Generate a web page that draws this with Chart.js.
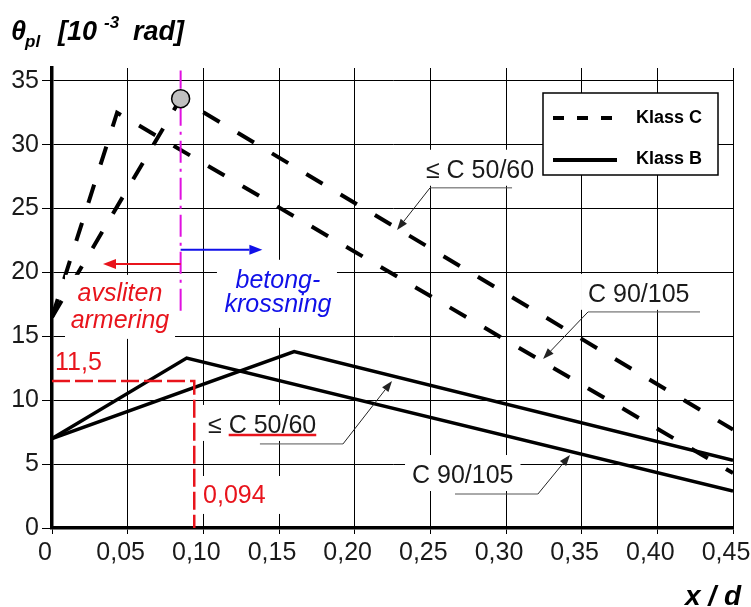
<!DOCTYPE html>
<html>
<head>
<meta charset="utf-8">
<script src="https://cdn.jsdelivr.net/npm/chart.js@4.4.0/dist/chart.umd.min.js"></script>
<style>
  html, body { margin: 0; padding: 0; background: #fff; }
  #wrap { width: 751px; height: 607px; position: relative; }
</style>
</head>
<body>
<div id="wrap"><canvas id="rotation"></canvas></div>
<script>
// avlasta varden, x/d och theta_pl [10^-3 rad]
const xC50 = [0, 0.085, 0.45];
const yC50 = [16.5, 33.6, 7.7];
const xC90 = [0, 0.043, 0.45];
const yC90 = [16.5, 32.5, 4.3];
const xB50 = [0, 0.16, 0.45];
const yB50 = [7, 13.8, 5.3];
const xB90 = [0, 0.089, 0.45];
const yB90 = [7, 13.3, 2.9];

// avlasning 0,094 -> 11,5 (rod streckad)
const xRead = [0, 0.094, 0.094];
const yRead = [11.5, 11.5, 0];
// grans avsliten armering / betongkrossning
const xGrans = [0.085, 0.085];
const yGrans = [17, 35.8];
const xPunkt = [0.085];
const yPunkt = [33.6];

const xTicks = [0, 0.05, 0.10, 0.15, 0.20, 0.25, 0.30, 0.35, 0.40, 0.45];
const xTickLabels = ['0', '0,05', '0,10', '0,15', '0,20', '0,25', '0,30', '0,35', '0,40', '0,45'];
const yTicks = [0, 5, 10, 15, 20, 25, 30, 35];
const yTickLabels = ['0', '5', '10', '15', '20', '25', '30', '35'];

// pekare med text (datakoordinater)
const callouts = [
  { text: '\u2264 C 50/60', at: [0.2471, 27.41], line: [[0.304, 26.62], [0.2498, 26.62], [0.228, 23.33]] },
  { text: 'C 90/105', at: [0.3542, 17.70], line: [[0.4282, 16.91], [0.3542, 16.91], [0.3245, 13.23]] },
  { text: '\u2264 C 50/60', at: [0.1031, 7.44], line: [[0.1374, 6.58], [0.1923, 6.58], [0.2247, 11.51]], underline: true },
  { text: 'C 90/105', at: [0.2379, 3.52], line: [[0.2663, 2.66], [0.3211, 2.66], [0.3423, 5.72]] }
];

Chart.defaults.font.family = "'Liberation Sans', Arial, sans-serif";
Chart.defaults.color = '#1a1a1a';

function pts(xs, ys) {
  return xs.map((v, i) => ({ x: v, y: ys[i] }));
}

function linje(label, xs, ys, extra) {
  return Object.assign({
    label: label,
    data: pts(xs, ys),
    showLine: true,
    borderColor: '#000',
    backgroundColor: '#000',
    pointRadius: 0,
    pointHoverRadius: 0,
    tension: 0,
    fill: false
  }, extra);
}

function pil(ctx, x1, y1, x2, y2, len, half, color, width) {
  ctx.strokeStyle = color;
  ctx.fillStyle = color;
  ctx.lineWidth = width;
  ctx.setLineDash([]);
  const a = Math.atan2(y2 - y1, x2 - x1);
  const bx = x2 - len * Math.cos(a), by = y2 - len * Math.sin(a);
  ctx.beginPath();
  ctx.moveTo(x1, y1);
  ctx.lineTo(bx, by);
  ctx.stroke();
  ctx.beginPath();
  ctx.moveTo(x2, y2);
  ctx.lineTo(bx + half * Math.sin(a), by - half * Math.cos(a));
  ctx.lineTo(bx - half * Math.sin(a), by + half * Math.cos(a));
  ctx.closePath();
  ctx.fill();
}

const figurText = {
  id: 'figurText',
  afterDatasetsDraw(chart) {
    const ctx = chart.ctx;
    const ca = chart.chartArea;
    const X = v => chart.scales.x.getPixelForValue(v);
    const Y = v => chart.scales.y.getPixelForValue(v);
    ctx.save();

    // vita rutor bakom texterna
    ctx.fillStyle = '#fff';
    ctx.fillRect(X(0.0086), Y(19.81), X(0.0813) - X(0.0086), Y(14.8) - Y(19.81));
    ctx.fillRect(X(0.109), Y(20.99), X(0.1883) - X(0.109), Y(15.66) - Y(20.99));
    ctx.fillRect(X(0.0965), Y(4.07), X(0.152) - X(0.0965), Y(1.10) - Y(4.07));

    // rod och bla pil
    pil(ctx, X(0.085), Y(20.67), X(0.0337), Y(20.67), 13, 5, '#e8141c', 2);
    pil(ctx, X(0.085), Y(21.77), X(0.139), Y(21.77), 13, 5, '#1010e8', 2);

    ctx.textBaseline = 'alphabetic';
    ctx.textAlign = 'center';
    ctx.font = "italic 25px 'Liberation Sans', Arial, sans-serif";
    ctx.fillStyle = '#e8141c';
    ctx.fillText('avsliten', X(0.0449), Y(17.77));
    ctx.fillText('armering', X(0.0449), Y(15.66));
    ctx.fillStyle = '#1010e8';
    ctx.fillText('betong-', X(0.1493), Y(18.79));
    ctx.fillText('krossning', X(0.1493), Y(16.91));

    ctx.textAlign = 'left';
    ctx.font = "25px 'Liberation Sans', Arial, sans-serif";
    ctx.fillStyle = '#e8141c';
    ctx.fillText('11,5', X(0.002), Y(12.37));
    ctx.fillText('0,094', X(0.0998), Y(1.96));

    // pekare
    callouts.forEach(c => {
      const tx = X(c.at[0]), ty = Y(c.at[1]);
      ctx.font = "25px 'Liberation Sans', Arial, sans-serif";
      const w = ctx.measureText(c.text).width;
      ctx.fillStyle = '#fff';
      ctx.fillRect(tx - 7, ty - 28, w + 14, 36);
      ctx.fillStyle = '#1a1a1a';
      ctx.textAlign = 'left';
      ctx.fillText(c.text, tx, ty);
      if (c.underline) {
        const pre = ctx.measureText('\u2264 ').width;
        ctx.strokeStyle = '#e8141c';
        ctx.lineWidth = 2.5;
        ctx.beginPath();
        ctx.moveTo(tx + pre, ty + 2);
        ctx.lineTo(tx + w, ty + 2);
        ctx.stroke();
      }
      const p = c.line.map(q => [X(q[0]), Y(q[1])]);
      ctx.strokeStyle = '#555';
      ctx.lineWidth = 1;
      ctx.beginPath();
      ctx.moveTo(p[0][0], p[0][1]);
      ctx.lineTo(p[1][0], p[1][1]);
      ctx.stroke();
      pil(ctx, p[1][0], p[1][1], p[2][0], p[2][1], 11, 4, '#222', 1);
    });

    // teckenforklaring
    const lx = ca.right - 190, ly = ca.top + 25;
    ctx.fillStyle = '#fff';
    ctx.fillRect(lx, ly, 175, 82);
    ctx.strokeStyle = '#000';
    ctx.lineWidth = 1.5;
    ctx.strokeRect(lx, ly, 175, 82);
    ctx.lineWidth = 4;
    ctx.setLineDash([11, 13]);
    ctx.beginPath();
    ctx.moveTo(lx + 10, ly + 25);
    ctx.lineTo(lx + 74, ly + 25);
    ctx.stroke();
    ctx.setLineDash([]);
    ctx.beginPath();
    ctx.moveTo(lx + 10, ly + 67);
    ctx.lineTo(lx + 74, ly + 67);
    ctx.stroke();
    ctx.fillStyle = '#000';
    ctx.font = "bold 18px 'Liberation Sans', Arial, sans-serif";
    ctx.textBaseline = 'middle';
    ctx.fillText('Klass C', lx + 93, ly + 25);
    ctx.fillText('Klass B', lx + 93, ly + 66);

    // axeltitlar
    ctx.textBaseline = 'alphabetic';
    ctx.font = "italic bold 27px 'Liberation Sans', Arial, sans-serif";
    ctx.fillText('\u03b8', 11, 40);
    ctx.fillText('[10', 58, 40);
    ctx.fillText('rad]', 133, 40);
    ctx.font = "italic bold 17px 'Liberation Sans', Arial, sans-serif";
    ctx.fillText('pl', 25, 47);
    ctx.fillText('-3', 104, 28);
    ctx.font = "italic bold 28px 'Liberation Sans', Arial, sans-serif";
    ctx.textAlign = 'right';
    ctx.fillText('x / d', 741, 605);

    ctx.restore();
  }
};

const ctx = document.getElementById('rotation');

new Chart(ctx, {
  type: 'scatter',
  data: {
    datasets: [
      { label: 'brytpunkt', data: pts(xPunkt, yPunkt), pointRadius: 9, pointHoverRadius: 9,
        backgroundColor: '#c0c0c0', borderColor: '#000', borderWidth: 1.5, showLine: false, order: 0 },
      linje('Klass C, \u2264 C 50/60', xC50, yC50, { borderWidth: 4, borderDash: [19, 21], order: 2 }),
      linje('Klass C, C 90/105', xC90, yC90, { borderWidth: 4, borderDash: [19, 21], order: 2 }),
      linje('Klass B, \u2264 C 50/60', xB50, yB50, { borderWidth: 3.5, order: 2 }),
      linje('Klass B, C 90/105', xB90, yB90, { borderWidth: 3.5, order: 2 }),
      linje('avlasning', xRead, yRead, { borderColor: '#e8141c', borderWidth: 2.5, borderDash: [18, 5], order: 1 }),
      linje('grans', xGrans, yGrans, { borderColor: '#e010e0', borderWidth: 2, borderDash: [22, 6, 3, 6], order: 1 })
    ]
  },
  options: {
    responsive: true,
    maintainAspectRatio: false,
    animation: false,
    layout: { autoPadding: false, padding: { top: 68, right: 18, left: 0, bottom: 0 } },
    plugins: {
      legend: { display: false },
      tooltip: { enabled: false },
      title: { display: false }
    },
    scales: {
      x: {
        type: 'linear',
        min: 0,
        max: 0.45,
        afterBuildTicks: s => { s.ticks = xTicks.map(v => ({ value: v })); },
        afterFit: s => { s.height = 79; s.paddingLeft = 0; s.paddingRight = 0; s.paddingTop = 0; s.paddingBottom = 0; },
        ticks: {
          autoSkip: false,
          maxRotation: 0,
          padding: 4,
          labelOffset: -7,
          color: '#1a1a1a',
          font: { size: 25 },
          callback: (v, i) => xTickLabels[i]
        },
        grid: { color: '#000', lineWidth: 1, tickLength: 6 },
        border: { color: '#000', width: 3.5 }
      },
      y: {
        type: 'linear',
        min: 0,
        max: 36,
        afterBuildTicks: s => { s.ticks = yTicks.map(v => ({ value: v })); },
        afterFit: s => { s.width = 52; s.paddingLeft = 0; s.paddingRight = 0; s.paddingTop = 0; s.paddingBottom = 0; },
        ticks: {
          autoSkip: false,
          padding: 3,
          color: '#1a1a1a',
          font: { size: 25 },
          callback: (v, i) => yTickLabels[i]
        },
        grid: { color: '#000', lineWidth: 1, tickLength: 10 },
        border: { color: '#000', width: 3.5 }
      }
    }
  },
  plugins: [figurText]
});
</script>
</body>
</html>
